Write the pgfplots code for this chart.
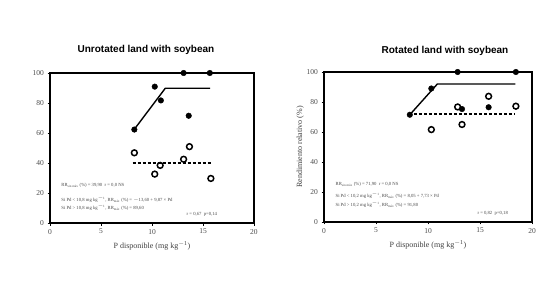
\documentclass[border=0pt]{standalone}
\usepackage{pgfplots}
\pgfplotsset{compat=1.18}
\usepackage{fontspec}
\setmainfont{Liberation Serif}
\newfontfamily\titlefont{Liberation Sans}
\tikzset{eq/.style={anchor=west, font=\fontsize{4.7}{5.5}\selectfont, text=black!70, inner sep=0pt}}
\begin{document}
\begin{tikzpicture}
\path[use as bounding box, fill=white] (0,0) rectangle (560pt,300pt);
\node[font=\titlefont\bfseries\fontsize{10}{12}\selectfont] at (146pt,250pt) {Unrotated land with soybean};
\node[font=\titlefont\bfseries\fontsize{10}{12}\selectfont] at (445pt,249pt) {Rotated land with soybean};
\pgfplotsset{
  panel/.style={
    scale only axis, anchor=south west,
    xmin=0, xmax=20, ymin=0, ymax=100,
    xtick={0,5,10,15,20}, ytick={0,20,40,60,80,100},
    tick align=outside, tick pos=left,
    major tick length=2.5pt,
    axis line style={line width=1.3pt},
    every tick/.style={black, line width=0.8pt},
    tick label style={font=\fontsize{7.5}{8}\selectfont, text=black!70},
    /pgf/number format/assume math mode=true,
    xlabel={P disponible (mg kg\textsuperscript{$-$1})},
    xlabel style={font=\fontsize{8}{9}\selectfont, text=black!75, yshift=-1pt},
    ylabel style={font=\fontsize{8}{9}\selectfont, text=black!75},
    clip=false,
  },
  filled/.style={only marks, mark=*, mark size=2.8pt, mark options={fill=black, draw=black}},
  open/.style={only marks, mark=o, mark size=2.9pt, mark options={draw=black, line width=1.5pt}},
}
% Left panel
\begin{axis}[panel, at={(50pt,77pt)}, width=204pt, height=150pt]
\addplot[black, line width=1.4pt] coordinates {(8.27,62.5) (11.3,89.8) (15.7,89.8)};
\addplot[black, line width=1.4pt, dash pattern=on 3pt off 2pt] coordinates {(8.1,39.9) (15.8,39.9)};
\addplot[filled] coordinates {(8.27,62.3) (10.27,90.9) (10.87,81.7) (13.1,100) (15.67,100) (13.6,71.5)};
\addplot[open] coordinates {(8.27,46.8) (10.27,32.6) (10.8,38.4) (13.1,42.5) (13.67,50.9) (15.77,29.7)};
\node[eq] at (axis cs:1.1,25.3) {RR\textsubscript{sin máx} (\%) = 39,90 \ r = 0,0 NS};
\node[eq] at (axis cs:1.1,16.0) {Si Pd < 10,8 mg kg\textsuperscript{$-$1}, RR\textsubscript{máx} (\%) = $-$13,60 + 9,87 × Pd};
\node[eq] at (axis cs:1.1,10.7) {Si Pd > 10,8 mg kg\textsuperscript{$-$1}, RR\textsubscript{máx} (\%) = 89,60};
\node[eq, anchor=east] at (axis cs:16.4,5.5) {r = 0,67 \ p=0,14};
\end{axis}
% Right panel
\begin{axis}[panel, at={(324pt,78pt)}, width=208pt, height=150pt, ylabel={Rendimiento relativo (\%)}, ylabel style={yshift=-4pt}]
\addplot[black, line width=1.4pt] coordinates {(8.25,71.5) (10.9,92) (18.4,92)};
\addplot[black, line width=1.4pt, dash pattern=on 3pt off 2pt] coordinates {(8.15,71.9) (18.4,71.9)};
\addplot[filled] coordinates {(8.25,71.5) (10.32,89) (12.85,100) (13.27,75.3) (15.83,76.5) (18.45,100)};
\addplot[open] coordinates {(10.32,61.6) (12.85,76.7) (13.27,65) (15.83,83.8) (18.45,77.2)};
\node[eq] at (axis cs:1.1,25.3) {RR\textsubscript{sin máx} (\%) = 71,90 \ r = 0,0 NS};
\node[eq] at (axis cs:1.1,18.0) {Si Pd < 10,2 mg kg\textsuperscript{$-$1}, RR\textsubscript{máx} (\%) = 8,05 + 7,73 × Pd};
\node[eq] at (axis cs:1.1,12.0) {Si Pd > 10,2 mg kg\textsuperscript{$-$1}, RR\textsubscript{máx} (\%) = 91,80};
\node[eq, anchor=east] at (axis cs:17.7,6.0) {r = 0,82 \ p=0,18};
\end{axis}
\end{tikzpicture}
\end{document}
